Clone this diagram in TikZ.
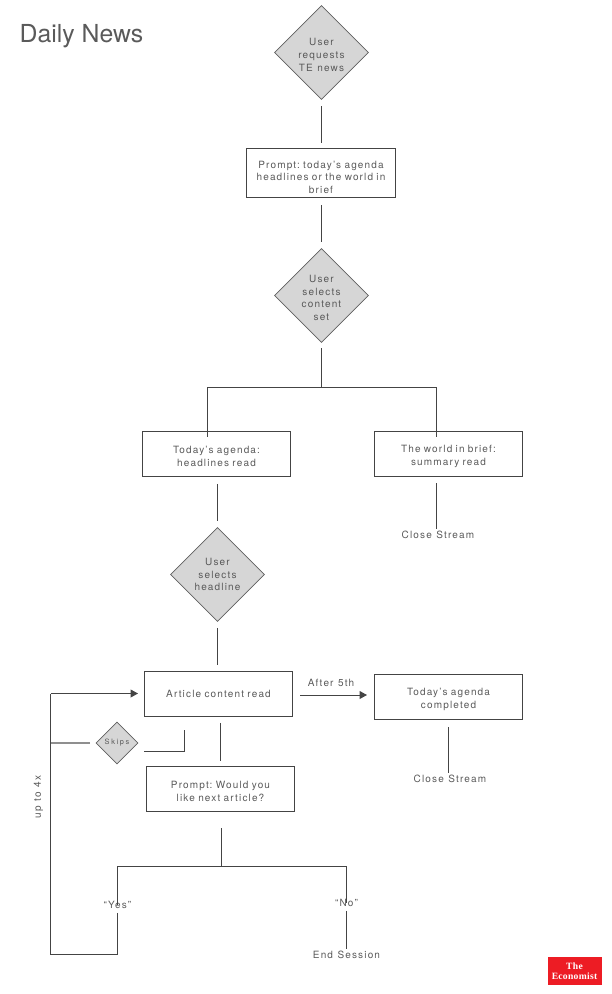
\documentclass[tikz,border=0pt]{standalone}
\usepackage{fontspec}
\setmainfont{TeX Gyre Heros}[LetterSpace=11.5,WordSpace=1.15]
\newfontfamily\titlefont{TeX Gyre Heros}
\newfontfamily\logofont{Liberation Serif}[LetterSpace=3]
\frenchspacing
\usetikzlibrary{shapes,calc,arrows,arrows.meta}

\definecolor{inkline}{HTML}{444444}
\definecolor{inktext}{HTML}{5A5A5A}
\definecolor{decfill}{HTML}{D6D6D6}
\definecolor{logored}{HTML}{ED1C24}

\tikzset{
  txt/.style={text=inktext,font=\fontsize{10}{12.6}\selectfont,align=center,inner sep=1pt},
  multi/.style={execute at begin node={\rule{0pt}{#1}}},
  multi/.default=12.5pt,
  box/.style={txt,draw=inkline,line width=1pt,minimum width=148pt,minimum height=44.5pt,inner sep=0pt,text width=146pt},
  dec/.style={draw=inkline!85,line width=0.8pt,fill=decfill,diamond,aspect=1,minimum width=94pt,minimum height=94pt,inner sep=0pt},
  dectxt/.style={label={[txt,yshift=-2.5pt]center:{#1}}},
  link/.style={draw=inkline,line width=1pt},
  head/.style={-{Triangle[length=7.5pt,width=8pt]}},
}

\begin{document}
\begin{tikzpicture}[x=1pt,y=-1pt]

  \useasboundingbox (0,0) rectangle (612,994);

  \node (title) [text=inktext,font=\titlefont\fontsize{24.8}{28}\selectfont,inner sep=0pt] at (81.5,36.5) {Daily News};

  \node (req) [dec,dectxt={User\\requests\\TE news}] at (321.5,52.5) {};
  \node (prompt) [box,multi=15pt,minimum width=149pt,minimum height=48.5pt] at (321,173.2) {Prompt: today's agenda\\headlines or the world in\\brief};
  \node (select) [dec,dectxt={User\\selects\\content\\set}] at (321.5,295.5) {};
  \node (agenda) [box,multi] at (216.5,454) {Today's agenda:\\headlines read};
  \node (brief) [box,multi] at (448.5,454) {The world in brief:\\summary read};
  \node (closea) [txt] at (438,534.5) {Close Stream};
  \node (headline) [dec,label={[txt]center:{User\\selects\\headline}}] at (217.5,574.5) {};
  \node (article) [box] at (218.5,694) {Article content read};
  \node (done) [box,multi] at (448.5,697) {Today's agenda\\completed};
  \node (closeb) [txt] at (450,778.5) {Close Stream};
  \node (skips) [txt,dec,minimum width=42pt,minimum height=42pt,font=\fontsize{7.4}{9}\selectfont] at (117,743) {\addfontfeature{LetterSpace=22}Skips};
  \node (next) [box,multi] at (220.5,788.8) {Prompt: Would you\\like next article?};
  \node (yes) [txt] at (117.5,905) {“Yes”};
  \node (no) [txt] at (346.5,903) {“No”};
  \node (end) [txt] at (346.5,954.5) {End Session};
  \node (after) [txt] at (331,683) {After 5th};
  \node (upto) [txt,rotate=90] at (38.5,797) {up to 4x};
  \node (logo) [fill=logored,text=white,minimum width=54pt,minimum height=28pt,inner sep=0pt,align=center,
    font=\logofont\bfseries\fontsize{9.6}{9.6}\selectfont] at (574.5,971) {The\\Economist};

  \coordinate (split) at (321.5,387);
  \coordinate (fork) at (221.5,866);
  \coordinate (loopa) at (50.5,954.5);
  \coordinate (loopb) at (50.5,693.5);
  \coordinate (skipa) at (144,751);
  \coordinate (skipb) at (184.5,730);
  \coordinate (briefa) at (436,483);

  % main column
  \draw[link,shorten <=6.5pt,shorten >=5pt] (req) -- (req |- prompt.north);
  \draw[link,shorten <=7.5pt,shorten >=6.5pt] (req |- prompt.south) -- (select);
  \draw[link,shorten <=5.5pt] (select) -- (split);
  \draw[link] (split) -| ([yshift=-6pt]agenda.north -| 207.5,0);
  \draw[link] (split) -| ([yshift=-6pt]brief.north -| briefa);
  \draw[link,shorten <=7pt,shorten >=6.5pt] (headline |- agenda.south) -- (headline);
  \draw[link] (briefa) -- (closea.north -| briefa);
  \draw[link,shorten <=6pt,shorten >=6pt] (headline) -- (headline |- article.north);

  % article loop
  \draw[link,head] ([xshift=7pt]article.east |- 0,695) -- ([xshift=-7pt]done.west |- 0,695);
  \draw[link] (done.south) ++(0,7.5) -- (closeb.north -| done);
  \draw[link,shorten <=6pt,shorten >=5.5pt] (next |- article.south) -- (next);
  \draw[link] (skipa) -| (skipb);
  \draw[link,draw=inkline!60,line width=1.2pt] (skips) ++(-27,0) -- (loopb |- skips);
  \draw[link,shorten <=16.5pt] (fork |- next.south) -- (fork);
  \draw[link] (fork) -| (yes.center);
  \draw[link] (fork) -| (no.center);
  \draw[link] (yes.south) ++(0,3) |- (loopa) -- (loopb);
  \draw[link,head] (loopb) -- ([xshift=-6pt]article.west |- loopb);
  \draw[link] (no.south) ++(0,3) -- (end.north);

\end{tikzpicture}
\end{document}
